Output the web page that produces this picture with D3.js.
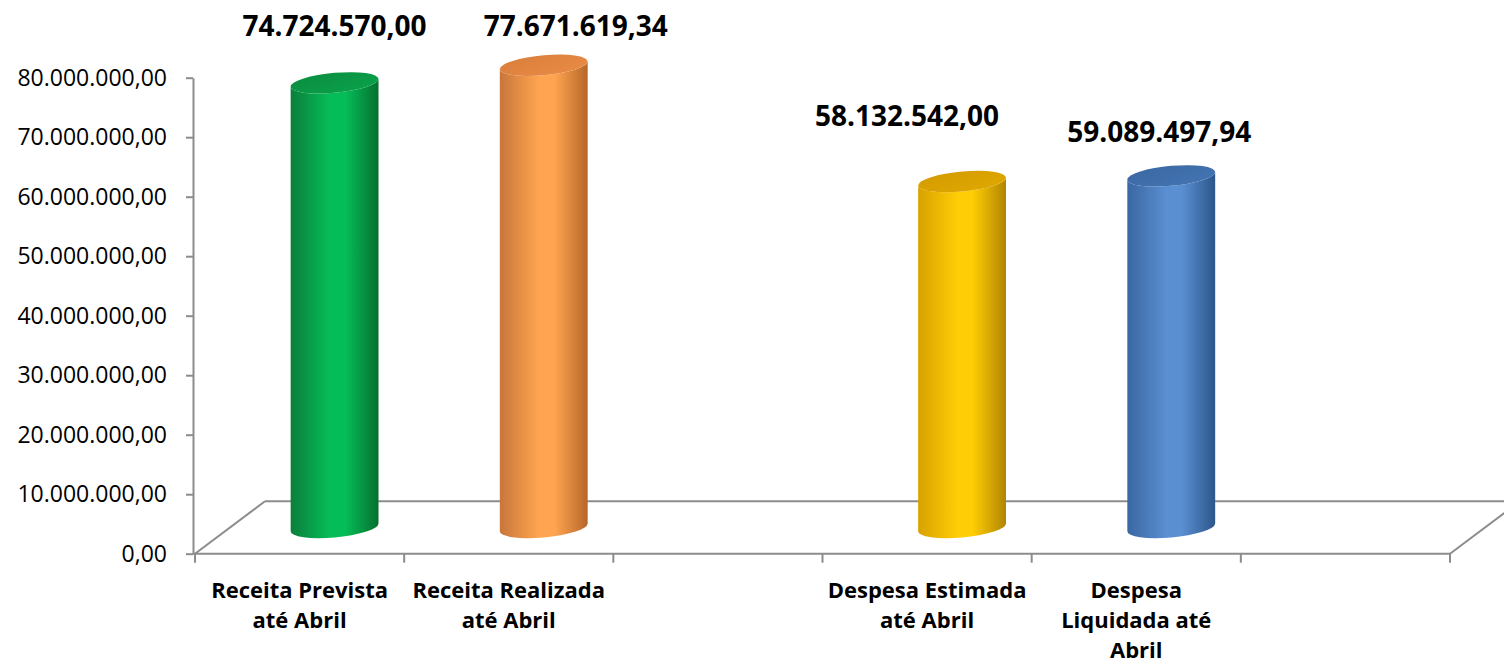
<!DOCTYPE html>
<html>
<head>
<meta charset="utf-8">
<script src="https://cdn.jsdelivr.net/npm/d3@7"></script>
<style>
  html, body { margin: 0; padding: 0; background: #ffffff; }
  svg { display: block; }
</style>
</head>
<body>
<svg id="chart" width="1504" height="664"></svg>
<script>
// ---------------- data ----------------
const categories = [
  "Receita Prevista até Abril",
  "Receita Realizada até Abril",
  "",
  "Despesa Estimada até Abril",
  "Despesa Liquidada até Abril",
  ""
];
const categoryLines = [
  ["Receita Prevista", "até Abril"],
  ["Receita Realizada", "até Abril"],
  [],
  ["Despesa Estimada", "até Abril"],
  ["Despesa", "Liquidada até", "Abril"],
  []
];
const values = [74724570.00, 77671619.34, null, 58132542.00, 59089497.94, null];
const yTicks = [0, 10000000, 20000000, 30000000, 40000000, 50000000, 60000000, 70000000, 80000000];

// ---------------- styles / layout ----------------
const barColors = [
  { edgeL: "#0b7e3b", mid: "#05bd58", edgeR: "#06702f", top: ["#0a8d40", "#0ba24b"] },
  { edgeL: "#c8763a", mid: "#ffa551", edgeR: "#b7662a", top: ["#d97f3c", "#e98b45"] },
  null,
  { edgeL: "#d8a200", mid: "#ffcd05", edgeR: "#b08500", top: ["#d39c00", "#e0a800"] },
  { edgeL: "#3a67a2", mid: "#5a8fd2", edgeR: "#2c568a", top: ["#3a68a3", "#4475b3"] },
  null
];
const labelNudge = [[0, -47], [32, -29], null, [-55, -56], [-12, -34], null];

const svg = d3.select("#chart");
const depth = { dx: 70, dy: -52.5 };
const x = d3.scaleBand().domain(d3.range(categories.length)).range([195, 1450]).padding(0);
const y = d3.scaleLinear().domain([0, 80000000]).range([553.7, 77.7]);
const loc = d3.formatLocale({ decimal: ",", thousands: ".", grouping: [3], currency: ["", ""] });
const fmt = loc.format(",.2f");
const axisColor = "#8c8c8c";

// ---------------- floor ----------------
const y0 = y(0);
const floor = svg.append("g").attr("stroke", axisColor).attr("stroke-width", 2).attr("fill", "none");
floor.append("line").attr("x1", x.range()[0] + depth.dx).attr("x2", x.range()[1] + depth.dx)
  .attr("y1", y0 + depth.dy).attr("y2", y0 + depth.dy);
floor.append("line").attr("x1", x.range()[0]).attr("x2", x.range()[0] + depth.dx)
  .attr("y1", y0).attr("y2", y0 + depth.dy);
floor.append("line").attr("x1", x.range()[1]).attr("x2", x.range()[1] + depth.dx)
  .attr("y1", y0).attr("y2", y0 + depth.dy);
floor.append("line").attr("x1", 193).attr("x2", x.range()[1])
  .attr("y1", y0).attr("y2", y0);

// category ticks
const boundaries = d3.range(categories.length + 1).map(i => x.range()[0] + i * x.bandwidth());
floor.selectAll(".ctick").data(boundaries).join("line")
  .attr("x1", d => d).attr("x2", d => d).attr("y1", y0).attr("y2", y0 + 9);

// ---------------- y axis ----------------
const yAxis = d3.axisLeft(y).tickValues(yTicks).tickSize(7).tickSizeOuter(0).tickPadding(19).tickFormat(fmt);
const ag = svg.append("g").attr("transform", "translate(193,0)").call(yAxis);
ag.select(".domain").attr("stroke", axisColor).attr("stroke-width", 2);
ag.selectAll(".tick line").attr("stroke", axisColor).attr("stroke-width", 2);
ag.selectAll(".tick text").attr("font-family", "'Open Sans', sans-serif").attr("font-size", 23)
  .attr("fill", "#000");

// ---------------- cylinders ----------------
const defs = svg.append("defs");
const r = x.bandwidth() * 0.21;
const ry = 10;
const skew = -5;

values.forEach((v, i) => {
  if (v == null) return;
  const c = barColors[i];
  const gid = "body" + i, tid = "top" + i;
  const lg = defs.append("linearGradient").attr("id", gid).attr("x1", 0).attr("x2", 1).attr("y1", 0).attr("y2", 0);
  lg.append("stop").attr("offset", "0%").attr("stop-color", c.edgeL);
  lg.append("stop").attr("offset", "45%").attr("stop-color", c.mid);
  lg.append("stop").attr("offset", "62%").attr("stop-color", c.mid);
  lg.append("stop").attr("offset", "100%").attr("stop-color", c.edgeR);
  const tg = defs.append("linearGradient").attr("id", tid).attr("x1", 0).attr("x2", 1).attr("y1", 0).attr("y2", 1);
  tg.append("stop").attr("offset", "0%").attr("stop-color", c.top[0]);
  tg.append("stop").attr("offset", "100%").attr("stop-color", c.top[1]);

  const cx = x(i) + x.bandwidth() / 2 + depth.dx / 2;
  const yB = y(0) + depth.dy / 2;
  const yT = y(v) + depth.dy / 2;
  const g = svg.append("g").attr("transform", `translate(${cx},0) skewY(${skew})`);
  g.append("path")
    .attr("d", `M${-r},${yT} L${-r},${yB} A${r},${ry} 0 0 0 ${r},${yB} L${r},${yT} A${r},${ry} 0 0 1 ${-r},${yT} Z`)
    .attr("fill", `url(#${gid})`);
  g.append("ellipse").attr("cx", 0).attr("cy", yT).attr("rx", r).attr("ry", ry)
    .attr("fill", `url(#${tid})`);

  const n = labelNudge[i];
  svg.append("text")
    .attr("x", cx + n[0]).attr("y", yT + n[1])
    .attr("text-anchor", "middle")
    .attr("font-family", "'Open Sans', sans-serif").attr("font-weight", "bold").attr("font-size", 28)
    .attr("fill", "#000")
    .text(fmt(v));
});

// ---------------- category labels ----------------
categoryLines.forEach((lines, i) => {
  if (!lines.length) return;
  const t = svg.append("text")
    .attr("text-anchor", "middle")
    .attr("font-family", "'Open Sans', sans-serif").attr("font-weight", "bold").attr("font-size", 22)
    .attr("fill", "#000");
  lines.forEach((ln, k) => {
    t.append("tspan").attr("x", x(i) + x.bandwidth() / 2).attr("y", 598 + k * 30).text(ln);
  });
});
</script>
</body>
</html>
